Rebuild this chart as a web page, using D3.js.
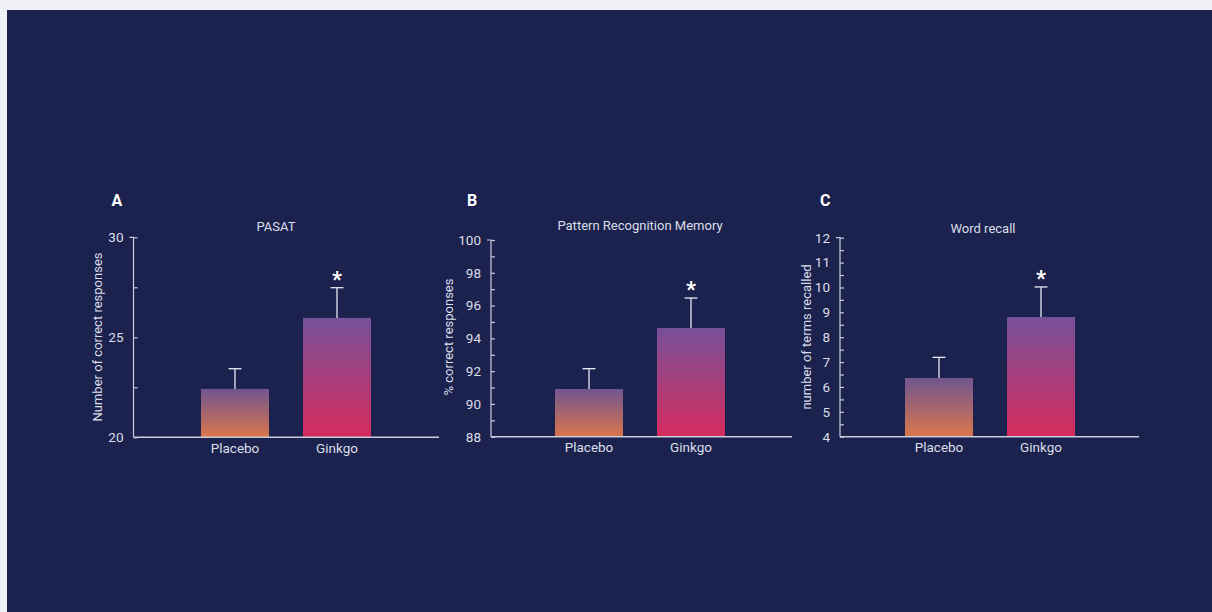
<!DOCTYPE html>
<html>
<head>
<meta charset="utf-8">
<script src="https://cdn.jsdelivr.net/npm/d3@7"></script>
<style>
  html, body { margin: 0; padding: 0; background: #f0f1f4; }
  svg { display: block; }
  text { font-family: Roboto, "Noto Sans", sans-serif; }
</style>
</head>
<body>
<svg id="chart" width="1212" height="612"></svg>
<script>
// ---- data ----
const categories = ["Placebo", "Ginkgo"];
const panelLetters = ["A", "B", "C"];
const panelTitles = ["PASAT", "Pattern Recognition Memory", "Word recall"];
const yLabels = ["Number of correct responses", "% correct responses", "number of terms recalled"];

const pasatMeans = [22.42, 25.97];
const pasatUpper = [23.43, 27.48];
const prmMeans = [90.91, 94.63];
const prmUpper = [92.15, 96.46];
const wordMeans = [6.36, 8.81];
const wordUpper = [7.19, 10.02];

const pasatDomain = [20, 30];
const prmDomain = [88, 100];
const wordDomain = [4, 12];
const pasatTicks = [20, 25, 30];
const pasatMinorTicks = [22.5, 27.5];
const prmTicks = [88, 90, 92, 94, 96, 98, 100];
const prmMinorTicks = [89, 91, 93, 95, 97, 99];
const wordTicks = [4, 5, 6, 7, 8, 9, 10, 11, 12];
const wordMinorTicks = [4.5, 5.5, 6.5, 7.5, 8.5, 9.5, 10.5, 11.5];
const significant = [false, true];

// ---- layout (positions / styles) ----
const W = 1212, H = 612;
const layout = [
  { axisX: 133.5, axisEnd: 439, y0: 437.3, y1: 237.3, barOffset: 67.5, letterX: 111.5, titleX: 276, titleY: 230.5, ylabX: 102 },
  { axisX: 491, axisEnd: 792, y0: 436.7, y1: 240, barOffset: 64, letterX: 467, titleX: 640, titleY: 230, ylabX: 452.5 },
  { axisX: 840, axisEnd: 1139, y0: 436.7, y1: 237.7, barOffset: 65, letterX: 820, titleX: 983, titleY: 232.5, ylabX: 810.5 }
];
const panels = [
  { means: pasatMeans, upper: pasatUpper, domain: pasatDomain, ticks: pasatTicks, minor: pasatMinorTicks },
  { means: prmMeans, upper: prmUpper, domain: prmDomain, ticks: prmTicks, minor: prmMinorTicks },
  { means: wordMeans, upper: wordUpper, domain: wordDomain, ticks: wordTicks, minor: wordMinorTicks }
];
const axisColor = "#c9ccdc";
const textColor = "#dcdee9";
const bg = "#1b224d";
const barWidth = 68;

const svg = d3.select("#chart");
svg.append("rect").attr("x", 7).attr("y", 10).attr("width", W - 7).attr("height", H - 10).attr("fill", bg);

const defs = svg.append("defs");
const gradStops = [
  { id: "gradPlacebo", top: "#70558f", bottom: "#db764c" },
  { id: "gradGinkgo", top: "#765099", bottom: "#d62b5d" }
];
gradStops.forEach(g => {
  const lg = defs.append("linearGradient").attr("id", g.id).attr("x1", 0).attr("y1", 0).attr("x2", 0).attr("y2", 1);
  lg.append("stop").attr("offset", "0%").attr("stop-color", g.top);
  lg.append("stop").attr("offset", "100%").attr("stop-color", g.bottom);
});

panels.forEach((p, i) => {
  const L = layout[i];
  const g = svg.append("g");
  const y = d3.scaleLinear().domain(p.domain).range([L.y0, L.y1]);
  const x = d3.scaleBand().domain(categories)
    .range([L.axisX + L.barOffset, L.axisX + L.barOffset + barWidth * 2.5])
    .paddingInner(1 / 3).paddingOuter(0);

  // bars
  g.selectAll("rect.bar").data(categories).enter().append("rect")
    .attr("x", d => x(d))
    .attr("width", x.bandwidth())
    .attr("y", (d, j) => y(p.means[j]))
    .attr("height", (d, j) => y(p.domain[0]) - y(p.means[j]))
    .attr("fill", (d, j) => `url(#${gradStops[j].id})`);

  // error bars
  categories.forEach((c, j) => {
    const cx = x(c) + x.bandwidth() / 2;
    g.append("line").attr("x1", cx).attr("x2", cx)
      .attr("y1", y(p.means[j])).attr("y2", y(p.upper[j]))
      .attr("stroke", "#e8e9f0").attr("stroke-width", 1.3);
    g.append("line").attr("x1", cx - 6.5).attr("x2", cx + 6.5)
      .attr("y1", y(p.upper[j])).attr("y2", y(p.upper[j]))
      .attr("stroke", "#e8e9f0").attr("stroke-width", 1.3);
    if (significant[j]) {
      g.append("text").attr("x", cx).attr("y", y(p.upper[j]) - 1)
        .attr("text-anchor", "middle").attr("fill", "#ffffff")
        .attr("font-size", 22).attr("font-weight", "bold").text("*");
    }
  });

  // y axis
  const yAxis = d3.axisLeft(y).tickValues(p.ticks).tickSize(-4).tickPadding(10).tickFormat(d3.format("d"));
  const ya = g.append("g").attr("transform", `translate(${L.axisX},0)`).call(yAxis);
  ya.select(".domain").attr("stroke", axisColor).attr("stroke-width", 1.2).attr("d", `M-4,${L.y1}H0V${L.y0}`);
  ya.selectAll(".tick line").attr("stroke", axisColor).attr("stroke-width", 1.2).attr("x1", 0).attr("x2", 4);
  ya.selectAll(".tick text").attr("fill", textColor).attr("font-size", 13.5).attr("font-family", "Roboto, sans-serif");
  const yMinor = d3.axisLeft(y).tickValues(p.minor).tickSize(0).tickFormat("");
  const ym = g.append("g").attr("transform", `translate(${L.axisX},0)`).call(yMinor);
  ym.select(".domain").remove();
  ym.selectAll(".tick line").attr("stroke", axisColor).attr("stroke-width", 1.2).attr("x1", 0).attr("x2", 4);

  // x axis
  const xAxis = d3.axisBottom(x).tickSize(0).tickPadding(6);
  const xa = g.append("g").attr("transform", `translate(0,${L.y0})`).call(xAxis);
  xa.select(".domain").remove();
  xa.selectAll(".tick text").attr("fill", textColor).attr("font-size", 13.5).attr("font-family", "Roboto, sans-serif");
  g.append("line").attr("x1", L.axisX).attr("x2", L.axisEnd).attr("y1", L.y0).attr("y2", L.y0)
    .attr("stroke", axisColor).attr("stroke-width", 1.5);

  // labels
  g.append("text").attr("x", L.letterX).attr("y", 205.5).attr("fill", "#ffffff")
    .attr("font-size", 16).attr("font-weight", "bold").text(panelLetters[i]);
  g.append("text").attr("x", L.titleX).attr("y", L.titleY).attr("text-anchor", "middle")
    .attr("fill", textColor).attr("font-size", 13).text(panelTitles[i]);
  g.append("text").attr("transform", `translate(${L.ylabX},337) rotate(-90)`)
    .attr("text-anchor", "middle").attr("fill", textColor).attr("font-size", 13).text(yLabels[i]);
});
</script>
</body>
</html>
